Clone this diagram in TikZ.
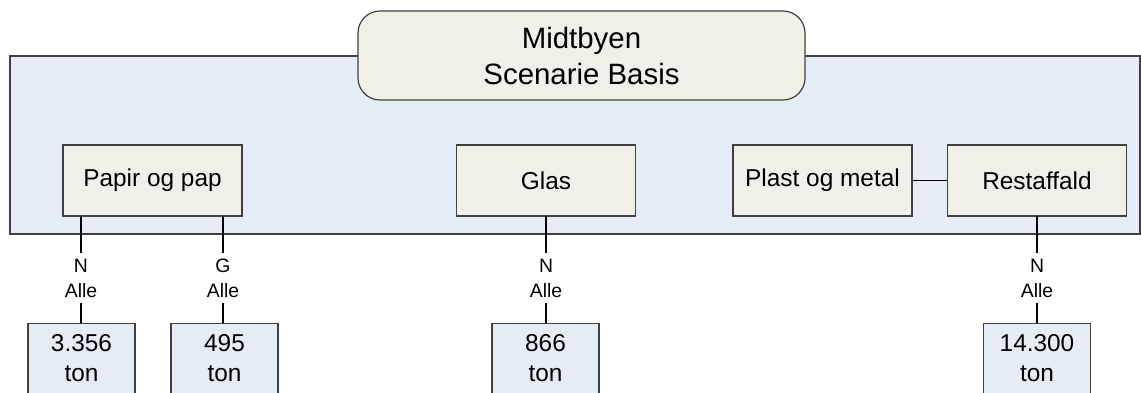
\documentclass[tikz,border=0pt]{standalone}
\usepackage{fontspec}
\setmainfont{Liberation Sans}
\definecolor{panelblue}{HTML}{E5ECF6}
\definecolor{boxbeige}{HTML}{F0F0E9}
\definecolor{edge}{HTML}{404040}
\begin{document}
\begin{tikzpicture}[x=1pt,y=-1pt,
  panel/.style={draw=edge,line width=1.2pt,fill=panelblue},
  title/.style={draw=edge,line width=1.2pt,fill=boxbeige,rounded corners=22pt,minimum width=447pt,minimum height=89pt,inner sep=0pt,align=center,font=\fontsize{29.4}{36}\selectfont},
  cat/.style={draw=edge,line width=1.2pt,fill=boxbeige,minimum width=179pt,minimum height=71pt,inner sep=0pt,font=\fontsize{24.4}{30}\selectfont},
  amount/.style={draw=edge,line width=1.2pt,fill=panelblue,minimum width=107pt,minimum height=110pt,inner sep=0pt,font=\fontsize{24.4}{30}\selectfont},
  amttext/.style={align=center,inner sep=0pt,font=\fontsize{24.4}{30}\selectfont},
  lbl/.style={align=center,inner sep=0pt,fill=white,minimum height=50pt,font=\fontsize{19.4}{25}\selectfont},
  conn/.style={draw=black,line width=1.4pt}]
\useasboundingbox (0,0) rectangle (1141,392);
\clip (0,0) rectangle (1141,392);
\draw[panel] (10,56) rectangle (1140,234);
\node[title] (t) at (581.5,55.5) {Midtbyen\\Scenarie Basis};
\node[cat] (pap) at (152.5,180.5) {Papir og pap};
\node[cat] (glas) at (546,180.5) {Glas};
\node[cat] (plast) at (822.5,180.5) {Plast og metal};
\node[cat] (rest) at (1037,180.5) {Restaffald};
\draw[conn] (plast) -- (rest);
% amount boxes (cut off at bottom)
\node[amount,anchor=north] (a1) at (81.5,323) {};
\node[amount,anchor=north] (a2) at (224.5,323) {};
\node[amount,anchor=north] (a3) at (545.5,323) {};
\node[amount,anchor=north] (a4) at (1037,323) {};
\node[amttext] (t1) at (81.5,358) {3.356\\ton};
\node[amttext] (t2) at (224.5,358) {495\\ton};
\node[amttext] (t3) at (545.5,358) {866\\ton};
\node[amttext] (t4) at (1037,358) {14.300\\ton};
% connectors with labels
\coordinate (p1) at (81,216);
\coordinate (p2) at (223,216);
\coordinate (g1) at (546,216);
\coordinate (r1) at (1037,216);
\draw[conn] (p1) -- (a1.north -| p1) node[lbl,pos=0.584] (l1) {N\\Alle};
\draw[conn] (p2) -- (a2.north -| p2) node[lbl,pos=0.584] (l2) {G\\Alle};
\draw[conn] (g1) -- (a3.north -| g1) node[lbl,pos=0.584] (l3) {N\\Alle};
\draw[conn] (r1) -- (a4.north -| r1) node[lbl,pos=0.584] (l4) {N\\Alle};
\end{tikzpicture}
\end{document}
